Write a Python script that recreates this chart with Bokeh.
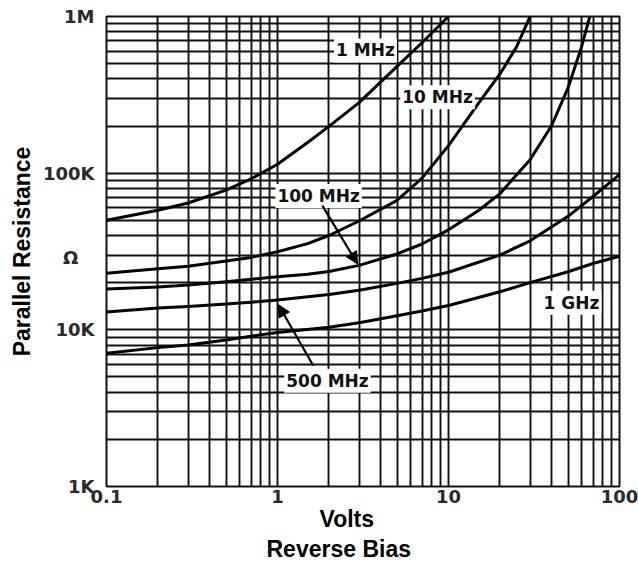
from bokeh.plotting import figure
from bokeh.models import FixedTicker, Label, Arrow, NormalHead, Title
from bokeh.embed import file_html
from bokeh.resources import INLINE

# ---------------- data ----------------
v_1mhz = [0.1, 0.2, 0.3, 0.5, 0.7, 1, 1.5, 2, 3, 5, 7, 10]
r_1mhz = [50e3, 58e3, 64.5e3, 78e3, 92e3, 114e3, 157e3, 199e3, 282e3, 480e3, 680e3, 1e6]

v_10mhz = [0.1, 0.2, 0.3, 0.5, 0.7, 1, 1.5, 2, 3, 5, 7, 10, 15, 20, 25, 30]
r_10mhz = [23e3, 24.5e3, 25.5e3, 27.5e3, 29e3, 31.5e3, 35.5e3, 40e3, 49.5e3, 67e3, 93e3,
           150e3, 280e3, 430e3, 640e3, 1e6]

v_100mhz = [0.1, 0.2, 0.3, 0.5, 0.7, 1, 1.5, 2, 3, 5, 7, 10, 15, 20, 30, 40, 50, 60, 67]
r_100mhz = [18.2e3, 18.8e3, 19.3e3, 20.3e3, 21e3, 21.8e3, 22.6e3, 23.6e3, 25.8e3, 30.5e3,
            35.3e3, 43.5e3, 57.8e3, 74e3, 122e3, 200e3, 350e3, 640e3, 1e6]

v_500mhz = [0.1, 0.2, 0.3, 0.5, 0.7, 1, 2, 3, 5, 7, 10, 20, 30, 50, 70, 100]
r_500mhz = [13e3, 13.8e3, 14.1e3, 14.6e3, 15e3, 15.5e3, 16.8e3, 17.9e3, 19.8e3, 21.3e3, 23.3e3,
            30e3, 37e3, 53e3, 71e3, 98e3]

v_1ghz = [0.1, 0.2, 0.3, 0.5, 0.7, 1, 2, 3, 5, 7, 10, 20, 30, 50, 70, 100]
r_1ghz = [7.1e3, 7.7e3, 8.0e3, 8.6e3, 9.1e3, 9.6e3, 10.4e3, 11.1e3, 12.3e3, 13.2e3, 14.3e3,
          17.5e3, 20e3, 23.5e3, 26.5e3, 29.5e3]

series = [(v_1mhz, r_1mhz), (v_10mhz, r_10mhz), (v_100mhz, r_100mhz),
          (v_500mhz, r_500mhz), (v_1ghz, r_1ghz)]

# curve name labels: text, volts, ohms
curve_labels = ["1 MHz", "10 MHz", "100 MHz", "500 MHz", "1 GHz"]
curve_label_v = [3.27, 8.63, 1.74, 1.96, 52.4]
curve_label_r = [607e3, 305e3, 71.5e3, 4.73e3, 14.9e3]

# arrows: start (volts, ohms) -> end (volts, ohms)
arrow_v_start = [1.83, 1.62]
arrow_r_start = [62e3, 5.9e3]
arrow_v_end = [2.94, 1.01]
arrow_r_end = [26.3e3, 14.5e3]

x_ticks = [0.1, 1, 10, 100]
x_tick_labels = ["0.1", "1", "10", "100"]
x_minor = [0.2, 0.3, 0.4, 0.5, 0.6, 0.7, 0.8, 0.9,
           2, 3, 4, 5, 6, 7, 8, 9,
           20, 30, 40, 50, 60, 70, 80, 90]
y_ticks = [1e3, 1e4, 1e5, 1e6]
y_tick_labels = ["1K", "10K", "100K", "1M"]
y_minor = [2e3, 3e3, 4e3, 5e3, 6e3, 7e3, 8e3, 9e3,
           2e4, 3e4, 4e4, 5e4, 6e4, 7e4, 8e4, 9e4,
           2e5, 3e5, 4e5, 5e5, 6e5, 7e5, 8e5, 9e5]

x_title = "Volts"
x_subtitle = "Reverse Bias"
y_title = "Parallel Resistance"
y_unit = "Ω"
y_unit_at = 28.8e3   # ohm level where the unit symbol sits

# ---------------- figure ----------------
INK = "#111111"

p = figure(width=638, height=564, x_axis_type="log", y_axis_type="log",
           x_range=(0.1, 100), y_range=(1e3, 1e6),
           output_backend="svg", toolbar_location=None,
           min_border_left=106, min_border_right=19, min_border_top=16,
           min_border_bottom=78)
p.background_fill_color = "white"
p.border_fill_color = "white"
p.outline_line_color = INK
p.outline_line_width = 2

# axis tick labels (unit symbol added as an extra label with no tick/grid)
p.xaxis.ticker = FixedTicker(ticks=x_ticks, minor_ticks=[])
p.yaxis.ticker = FixedTicker(ticks=y_ticks + [y_unit_at], minor_ticks=[])
p.xaxis.major_label_overrides = dict(zip(x_ticks, x_tick_labels))
y_over = dict(zip(y_ticks, y_tick_labels))
y_over[y_unit_at] = y_unit + "\u00a0\u00a0\u2009"
p.yaxis.major_label_overrides = y_over

# grid uses its own tickers
p.xgrid.ticker = FixedTicker(ticks=x_ticks, minor_ticks=x_minor)
p.ygrid.ticker = FixedTicker(ticks=y_ticks, minor_ticks=y_minor)

for ax in (p.xaxis, p.yaxis):
    ax.axis_line_color = None
    ax.major_tick_line_color = None
    ax.minor_tick_line_color = None
    ax.major_tick_out = 0
    ax.major_tick_in = 0
    ax.minor_tick_out = 0
    ax.minor_tick_in = 0
    ax.major_label_text_font = "DejaVu Sans"
    ax.major_label_text_font_style = "bold"
    ax.major_label_text_font_size = "18px"
    ax.major_label_text_color = "#2a2a2a"
p.xaxis.major_label_standoff = 3
p.yaxis.major_label_standoff = 12

p.yaxis.axis_label = y_title
p.yaxis.axis_label_text_font = "Liberation Sans"
p.yaxis.axis_label_text_font_style = "bold"
p.yaxis.axis_label_text_font_size = "23px"
p.yaxis.axis_label_text_color = "black"
p.yaxis.axis_label_standoff = 5

for g in (p.xgrid, p.ygrid):
    g.grid_line_color = INK
    g.grid_line_width = 1.9
    g.grid_line_alpha = 1.0
    g.minor_grid_line_color = INK
    g.minor_grid_line_width = 1.9
    g.minor_grid_line_alpha = 1.0

for vs, rs in series:
    p.line(vs, rs, line_color="black", line_width=3, line_join="round")

for t, vx, ry in zip(curve_labels, curve_label_v, curve_label_r):
    p.add_layout(Label(x=vx, y=ry, text=t, text_font="DejaVu Sans",
                       text_font_style="bold", text_font_size="17px",
                       text_color="#111111", text_align="center",
                       text_baseline="middle", background_fill_color="white",
                       padding=2))

for xs, ys, xe, ye in zip(arrow_v_start, arrow_r_start, arrow_v_end, arrow_r_end):
    p.add_layout(Arrow(end=NormalHead(size=12, fill_color="black", line_color="black"),
                       x_start=xs, y_start=ys, x_end=xe, y_end=ye,
                       line_color="black", line_width=2.2))

# x titles as titles below the axis
t1 = Title(text=x_title, align="left", offset=213, standoff=-3,
           text_font="Liberation Sans", text_font_style="bold",
           text_font_size="23px", text_color="black")
t2 = Title(text=x_subtitle, align="left", offset=160, standoff=6,
           text_font="Liberation Sans", text_font_style="bold",
           text_font_size="23px", text_color="black")
p.add_layout(t1, "below")
p.add_layout(t2, "below")

open("out.html", "w").write(file_html(p, INLINE))
